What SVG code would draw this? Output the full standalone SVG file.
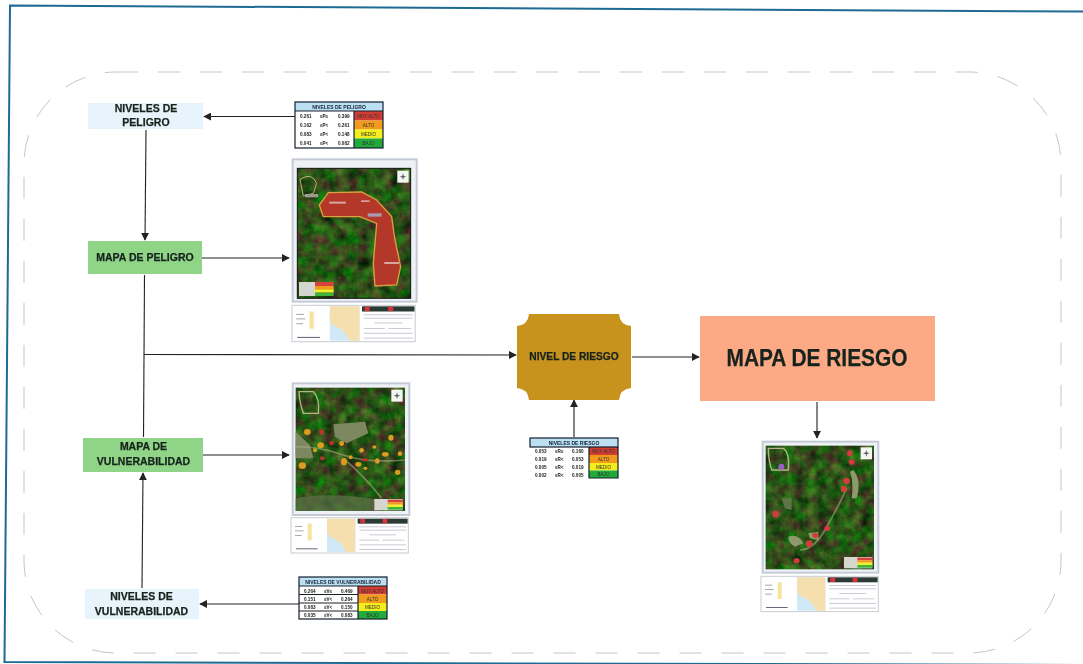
<svg xmlns="http://www.w3.org/2000/svg" width="1083" height="664" viewBox="0 0 1083 664">
<style>
.lbl{font-family:"Liberation Sans",Arial,sans-serif;font-weight:700;fill:#17231c;stroke:#17231c;stroke-width:.25;text-anchor:middle}
.n{font-size:10.5px}
.c{fill:none;stroke:#222;stroke-width:1.1}
.t{font-family:"Liberation Sans",Arial,sans-serif;font-size:4.6px;font-weight:700;fill:#222}
.h{font-family:"Liberation Sans",Arial,sans-serif;font-size:5px;font-weight:700;fill:#123;text-anchor:middle}
.k{font-family:"Liberation Sans",Arial,sans-serif;font-size:4.6px;fill:#333;text-anchor:middle}
.tl{fill:none;stroke:#15202c;stroke-width:1.2}
.road{fill:none;stroke:#a9a77c;stroke-width:5;opacity:.6}
</style>
<defs>
<filter id="soft" x="-2%" y="-2%" width="104%" height="104%"><feGaussianBlur stdDeviation="0.4"/></filter>
<filter id="sat" x="0" y="0" width="100%" height="100%" color-interpolation-filters="sRGB">
<feTurbulence type="fractalNoise" baseFrequency="0.03" numOctaves="4" seed="7" result="n"/>
<feColorMatrix in="n" type="matrix" values="0.55 0 0 0 -0.1  0 0.6 0 0 0.02  0.25 0 0 0 -0.03  0 0 0 0 1" result="g"/>
<feComposite in="g" in2="SourceGraphic" operator="in"/>
</filter>
<marker id="ah" viewBox="0 0 10 10" refX="9" refY="5" markerWidth="8" markerHeight="8" markerUnits="userSpaceOnUse" orient="auto"><path d="M0 0L10 5L0 10Z" fill="#222"/></marker>
<g id="panel">
<rect x="0" y="0" width="352" height="106" fill="#fff" stroke="#c9ccd2" stroke-width="3"/>
<rect x="108" y="3" width="85" height="100" fill="#cfe9f7"/>
<path d="M108 3H193V103H165Q150 70 125 62Q108 55 108 40Z" fill="#f6dfae"/>
<rect x="50" y="18" width="12" height="50" fill="#f7e39a"/>
<rect x="12" y="25" width="22" height="3" fill="#aaa"/><rect x="12" y="38" width="26" height="3" fill="#aaa"/><rect x="12" y="52" width="20" height="3" fill="#aaa"/>
<rect x="15" y="92" width="65" height="3" fill="#667"/>
<rect x="200" y="3" width="150" height="15" fill="#2c3a34"/>
<rect x="208" y="4" width="14" height="13" fill="#d9323a"/><rect x="275" y="4" width="14" height="13" fill="#d9323a"/>
<g fill="#c9ccd4"><rect x="205" y="26" width="140" height="3"/><rect x="205" y="36" width="140" height="3"/><rect x="235" y="50" width="80" height="3"/><rect x="205" y="66" width="60" height="3"/><rect x="275" y="66" width="65" height="3"/><rect x="205" y="80" width="140" height="3"/><rect x="205" y="94" width="140" height="3"/></g>
</g>
<g id="compass"><rect x="0" y="0" width="34" height="36" fill="#f4f6f2"/><path d="M17 8L20 18L17 28L14 18ZM7 18L17 15L27 18L17 21Z" fill="#556"/></g>
<g id="legend"><rect x="0" y="0" width="48" height="42" fill="#d5d6cf"/><rect x="48" y="0" width="56" height="12" fill="#d6433a"/><rect x="48" y="12" width="56" height="10" fill="#f39a1e"/><rect x="48" y="22" width="56" height="10" fill="#f6ee2c"/><rect x="48" y="32" width="56" height="10" fill="#3fb53a"/></g>
</defs>
<rect width="1083" height="664" fill="#fff"/>
<path d="M1083 11.500L10 5.500L4.500 662L1083 665" fill="none" stroke="#1d6a92" stroke-width="2"/>
<rect x="24" y="72" width="1037" height="581" rx="92" fill="none" stroke="#bcbec0" stroke-width=".9" stroke-dasharray="22 20"/>
<g filter="url(#soft)">
<g id="connectors">
<path class="c" d="M295 116.500H204" marker-end="url(#ah)"/>
<path class="c" d="M146 130L145 240" marker-end="url(#ah)"/>
<path class="c" d="M202 258H289" marker-end="url(#ah)"/>
<path class="c" d="M144.500 275L143.500 437"/>
<path class="c" d="M144 354.500L516 355" marker-end="url(#ah)"/>
<path class="c" d="M632 357H699" marker-end="url(#ah)"/>
<path class="c" d="M203 455H289" marker-end="url(#ah)"/>
<path class="c" d="M142 588L143 473" marker-end="url(#ah)"/>
<path class="c" d="M299 604L200 604" marker-end="url(#ah)"/>
<path class="c" d="M574 437V400" marker-end="url(#ah)"/>
<path class="c" d="M817 402V438" marker-end="url(#ah)"/>
</g>
<g id="niveles-peligro"><rect x="88" y="103" width="115" height="26" fill="#e8f4fb"/><text class="lbl n" x="146" y="111.500">NIVELES DE</text><text class="lbl n" x="146" y="126">PELIGRO</text></g>
<g id="mapa-peligro"><rect x="88" y="241" width="114" height="33" fill="#90d488"/><text class="lbl n" x="145" y="261">MAPA DE PELIGRO</text></g>
<g id="mapa-vulnerabilidad"><rect x="83" y="438" width="120" height="34" fill="#90d488"/><text class="lbl n" x="143.500" y="450">MAPA DE</text><text class="lbl n" x="143.500" y="465">VULNERABILIDAD</text></g>
<g id="niveles-vulnerabilidad"><rect x="85" y="589" width="114" height="30" fill="#e8f4fb"/><text class="lbl n" x="141.500" y="600">NIVELES DE</text><text class="lbl n" x="141.500" y="615">VULNERABILIDAD</text></g>
<g id="nivel-riesgo"><path d="M529 314H619Q620 325 631 326V388Q620 389 619 400H529Q528 389 517 388V326Q528 325 529 314Z" fill="#c8931f"/><text class="lbl" font-size="10.200" x="574" y="360">NIVEL DE RIESGO</text></g>
<g id="mapa-riesgo"><rect x="700" y="316" width="235" height="85" fill="#fcaa85"/><text class="lbl" font-size="24" x="817" y="366" textLength="181" lengthAdjust="spacingAndGlyphs">MAPA DE RIESGO</text></g>

<g id="tabla-peligro" transform="translate(295 102)">
<rect width="88" height="9" fill="#bcdff2"/><rect x="59" y="9" width="29" height="9.500" fill="#d13c30"/><rect x="59" y="18.500" width="29" height="9" fill="#f29a1c"/><rect x="59" y="27.500" width="29" height="9" fill="#f4ee1e"/><rect x="59" y="36.500" width="29" height="9.500" fill="#22aa3a"/>
<rect class="tl" width="88" height="46"/><path class="tl" d="M0 9H88M59 9V46"/>
<text class="h" x="44" y="6.500">NIVELES DE PELIGRO</text>
<text class="t" x="5" y="16">0.261</text><text class="t" x="25" y="16">≤P≤</text><text class="t" x="43" y="16">0.399</text><text class="k" x="73.500" y="16">MUY ALTO</text>
<text class="t" x="5" y="25">0.162</text><text class="t" x="25" y="25">≤P&lt;</text><text class="t" x="43" y="25">0.261</text><text class="k" x="73.500" y="25">ALTO</text>
<text class="t" x="5" y="34">0.083</text><text class="t" x="25" y="34">≤P&lt;</text><text class="t" x="43" y="34">0.148</text><text class="k" x="73.500" y="34">MEDIO</text>
<text class="t" x="5" y="43">0.041</text><text class="t" x="25" y="43">≤P&lt;</text><text class="t" x="43" y="43">0.082</text><text class="k" x="73.500" y="43">BAJO</text>
</g>
<g id="tabla-vulnerabilidad" transform="translate(299 577)">
<rect width="88" height="9" fill="#bcdff2"/><rect x="59" y="9" width="29" height="8.500" fill="#d13c30"/><rect x="59" y="17.500" width="29" height="8.500" fill="#f29a1c"/><rect x="59" y="26" width="29" height="8" fill="#f4ee1e"/><rect x="59" y="34" width="29" height="8" fill="#22aa3a"/>
<rect class="tl" width="88" height="42"/><path class="tl" d="M0 9H88M0 17.500H59M0 26H59M0 34H59M59 9V42"/>
<text class="h" x="44" y="6.500">NIVELES DE VULNERABILIDAD</text>
<text class="t" x="5" y="15.500">0.264</text><text class="t" x="25" y="15.500">≤V≤</text><text class="t" x="42" y="15.500">0.469</text><text class="k" x="73.500" y="15.500">MUY ALTO</text>
<text class="t" x="5" y="24">0.151</text><text class="t" x="25" y="24">≤V&lt;</text><text class="t" x="42" y="24">0.264</text><text class="k" x="73.500" y="24">ALTO</text>
<text class="t" x="5" y="32">0.083</text><text class="t" x="25" y="32">≤V&lt;</text><text class="t" x="42" y="32">0.150</text><text class="k" x="73.500" y="32">MEDIO</text>
<text class="t" x="5" y="40">0.035</text><text class="t" x="25" y="40">≤V&lt;</text><text class="t" x="42" y="40">0.083</text><text class="k" x="73.500" y="40">BAJO</text>
</g>
<g id="tabla-riesgo" transform="translate(530 438)">
<rect width="88" height="9" fill="#bcdff2"/><rect x="59" y="9" width="29" height="8" fill="#d13c30"/><rect x="59" y="17" width="29" height="8" fill="#f29a1c"/><rect x="59" y="25" width="29" height="7.500" fill="#f4ee1e"/><rect x="59" y="32.500" width="29" height="7.500" fill="#22aa3a"/>
<rect class="tl" width="88" height="9"/><path class="tl" d="M59 9V40H88V9" stroke-width=".6"/>
<text class="h" x="44" y="6.500">NIVELES DE RIESGO</text>
<text class="t" x="5" y="14.500">0.053</text><text class="t" x="25" y="14.500">≤R≤</text><text class="t" x="42" y="14.500">0.160</text><text class="k" x="73.500" y="15">MUY ALTO</text>
<text class="t" x="5" y="22.500">0.019</text><text class="t" x="25" y="22.500">≤R&lt;</text><text class="t" x="42" y="22.500">0.053</text><text class="k" x="73.500" y="23">ALTO</text>
<text class="t" x="5" y="30.500">0.005</text><text class="t" x="25" y="30.500">≤R&lt;</text><text class="t" x="42" y="30.500">0.019</text><text class="k" x="73.500" y="30.500">MEDIO</text>
<text class="t" x="5" y="38.500">0.002</text><text class="t" x="25" y="38.500">≤R&lt;</text><text class="t" x="42" y="38.500">0.005</text><text class="k" x="73.500" y="38">BAJO</text>
</g>

<g id="mapa-1" transform="translate(280 90) scale(.3333)">
<rect x="38" y="208" width="372" height="427" fill="#eef1f6" stroke="#c4cad6" stroke-width="6"/>
<rect x="52" y="235" width="340" height="390" fill="#000" filter="url(#sat)"/>
<rect x="52" y="235" width="340" height="390" fill="none" stroke="#111" stroke-width="3"/>
<path d="M118 345L145 308L245 306L290 330L335 380L345 450L362 530L350 585L285 588L280 520L290 400L240 380L130 380Z" fill="#b3372c" stroke="#d9a23e" stroke-width="4"/>
<path d="M60 268Q95 245 110 280L100 310L70 318Z" fill="none" stroke="#b8b470" stroke-width="3"/>
<rect x="75" y="312" width="40" height="10" fill="#9a9c8c"/>
<rect x="148" y="335" width="50" height="6" fill="#d8a8a0"/><rect x="243" y="331" width="26" height="5" fill="#d8a8a0"/><rect x="263" y="370" width="42" height="10" fill="#a89ab0"/><rect x="313" y="516" width="44" height="6" fill="#d8a8a0"/>
<use href="#compass" x="352" y="242"/>
<use href="#legend" x="57" y="576"/>
<use href="#panel" transform="translate(36 646) scale(1.050 1.030)"/>
</g>
<g id="mapa-2" transform="translate(280 375) scale(.3333)">
<rect x="38" y="25" width="350" height="395" fill="#eef1f6" stroke="#c4cad6" stroke-width="6"/>
<rect x="47" y="38" width="328" height="370" fill="#000" filter="url(#sat)"/>
<path d="M160 148L255 140L265 175L200 205L165 185Z" fill="#7d8860"/>
<path d="M47 170L90 210L100 250L47 250Z" fill="#7d8860"/>
<path d="M47 370Q150 350 300 375L300 408L47 408Z" fill="#5e7448" opacity=".7"/>
<path class="road" d="M47 215Q120 215 190 240T375 255"/>
<path class="road" d="M190 250Q250 300 305 370"/>
<path d="M57 50H100Q120 70 115 115H70Q58 80 57 50Z" fill="none" stroke="#b8b48a" stroke-width="4"/>
<g fill="#e09a22"><ellipse cx="82" cy="171" rx="10" ry="9"/><ellipse cx="122" cy="211" rx="10" ry="9"/><ellipse cx="67" cy="272" rx="11" ry="10"/><ellipse cx="105" cy="226" rx="6" ry="6"/><ellipse cx="185" cy="205" rx="7" ry="8"/><ellipse cx="192" cy="260" rx="9" ry="11"/><ellipse cx="212" cy="247" rx="6" ry="6"/><ellipse cx="235" cy="268" rx="9" ry="7"/><ellipse cx="245" cy="226" rx="7" ry="7"/><ellipse cx="283" cy="216" rx="6" ry="5"/><ellipse cx="292" cy="258" rx="7" ry="8"/><ellipse cx="316" cy="238" rx="10" ry="7"/><ellipse cx="333" cy="188" rx="8" ry="9"/><ellipse cx="360" cy="236" rx="7" ry="7"/><ellipse cx="353" cy="292" rx="8" ry="8"/><ellipse cx="256" cy="280" rx="6" ry="5"/></g>
<g fill="#b8352a"><ellipse cx="125" cy="171" rx="7" ry="8"/><ellipse cx="155" cy="204" rx="7" ry="7"/><ellipse cx="127" cy="250" rx="7" ry="6"/><ellipse cx="255" cy="255" rx="9" ry="5"/></g>
<use href="#compass" x="334" y="44"/>
<rect x="283" y="372" width="85" height="34" fill="#d5d6cf"/><rect x="323" y="374" width="45" height="8" fill="#d6433a"/><rect x="323" y="382" width="45" height="7" fill="#f39a1e"/><rect x="323" y="389" width="45" height="7" fill="#f6ee2c"/><rect x="323" y="396" width="45" height="8" fill="#3fb53a"/>
<use href="#panel" x="33" y="428"/>
</g>
<g id="mapa-3" transform="translate(750 430) scale(.3333)">
<rect x="38" y="35" width="347" height="393" fill="#eef1f6" stroke="#c4cad6" stroke-width="6"/>
<rect x="47" y="47" width="325" height="371" fill="#000" filter="url(#sat)"/>
<path d="M310 120Q335 150 320 205L305 205Q312 160 300 125Z" fill="#8f9a6c"/>
<path d="M115 320Q145 310 160 340L135 350Q115 340 115 320Z" fill="#8f9a6c"/>
<path d="M95 205L125 205L125 240L105 235Z" fill="#5e7448"/>
<path d="M175 310L205 305L205 330L180 325Z" fill="#8f9a6c"/>
<path class="road" d="M290 175Q260 240 225 300T150 360"/>
<path d="M55 55H100Q120 70 115 120H65Q55 90 55 55Z" fill="none" stroke="#b8b48a" stroke-width="4"/>
<circle cx="94" cy="110" r="9" fill="#9a5fc8"/>
<g fill="#d13c3c"><ellipse cx="300" cy="70" rx="9" ry="9"/><ellipse cx="305" cy="96" rx="9" ry="8"/><ellipse cx="290" cy="153" rx="10" ry="10"/><ellipse cx="281" cy="177" rx="9" ry="10"/><ellipse cx="77" cy="252" rx="10" ry="10"/><ellipse cx="232" cy="295" rx="9" ry="8"/><ellipse cx="196" cy="316" rx="9" ry="8"/><ellipse cx="178" cy="341" rx="10" ry="10"/><ellipse cx="140" cy="392" rx="9" ry="8"/></g>
<use href="#compass" x="332" y="52"/>
<rect x="282" y="381" width="85" height="34" fill="#d5d6cf"/><rect x="322" y="383" width="45" height="8" fill="#d6433a"/><rect x="322" y="391" width="45" height="7" fill="#f39a1e"/><rect x="322" y="398" width="45" height="7" fill="#f6ee2c"/><rect x="322" y="405" width="45" height="8" fill="#3fb53a"/>
<use href="#panel" x="33" y="439"/>
</g>
</g>
</svg>
